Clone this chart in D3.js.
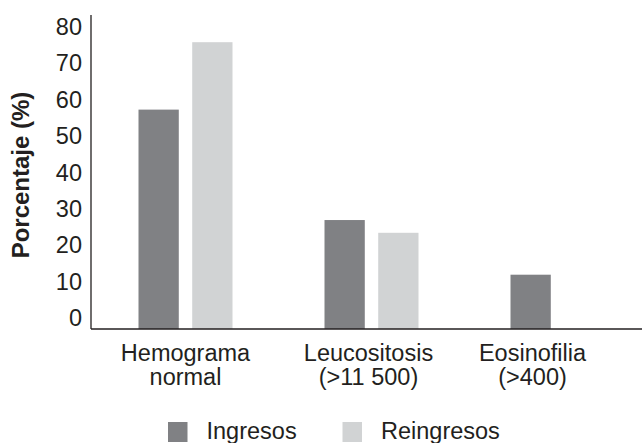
<!DOCTYPE html>
<html>
<head>
<meta charset="utf-8">
<script src="https://cdn.jsdelivr.net/npm/d3@7"></script>
<style>
  body { margin: 0; background: #fff; }
  text { font-family: "Liberation Sans", Arial, sans-serif; fill: #231f20; }
</style>
</head>
<body>
<script>
// data
var categories = ["Hemograma|normal", "Leucositosis|(>11 500)", "Eosinofilia|(>400)"];
var series = ["Ingresos", "Reingresos"];
var ingresos = [57, 26.7, 11.7];
var reingresos = [75.5, 23.2, 0];
var yTicks = [0, 10, 20, 30, 40, 50, 60, 70, 80];

function draw() {
    var w = 642;
    var h = 443;
    var fontSize = 23.5;
    var svg = d3.select("body")
        .append("svg")
        .attr("width", w)
        .attr("height", h);

    // axis baseline sits a little below the "0" tick in the original
    var y = d3.scaleLinear()
        .domain([-3.2, 80])
        .range([329, 25.8]);
    var x0 = d3.scaleBand()
        .domain(categories)
        .range([92.5, 650.5]);
    var x1 = d3.scaleBand()
        .domain(series)
        .range([46, 140])
        .paddingInner(0.25);
    var color = d3.scaleOrdinal()
        .domain(series)
        .range(["#808184", "#d1d3d4"]);

    var rows = categories.map(function(c, i) {
        return { cat: c, values: [ingresos[i], reingresos[i]] };
    });

    //bars (a zero value gets no bar)
    var groups = svg.selectAll("g.group")
        .data(rows)
        .enter()
        .append("g")
        .attr("class", "group")
        .attr("transform", function(d) { return "translate(" + x0(d.cat) + ",0)"; });
    groups.selectAll("rect")
        .data(function(d) {
            return series.map(function(s, j) { return { key: s, value: d.values[j] }; })
                .filter(function(e) { return e.value > 0; });
        })
        .enter()
        .append("rect")
        .attr("x", function(d) { return x1(d.key); })
        .attr("width", x1.bandwidth())
        .attr("y", function(d) { return y(d.value); })
        .attr("height", function(d) { return y(-3.2) - y(d.value); })
        .attr("fill", function(d) { return color(d.key); });

    //y tick labels
    var yAxis = svg.append("g")
        .attr("transform", "translate(82,0)")
        .call(d3.axisLeft(y).tickValues(yTicks).tickSize(0).tickPadding(0));
    yAxis.select(".domain").remove();
    yAxis.attr("font-family", null);
    yAxis.selectAll("text")
        .attr("font-size", fontSize)
        .attr("dy", "0.36em");

    //axis lines
    svg.append("line")
        .attr("x1", 91).attr("x2", 91)
        .attr("y1", 15).attr("y2", y(-3.2))
        .attr("stroke", "#231f20").attr("stroke-width", 1.3);
    svg.append("line")
        .attr("x1", 91).attr("x2", w)
        .attr("y1", y(-3.2)).attr("y2", y(-3.2))
        .attr("stroke", "#231f20").attr("stroke-width", 1.3);

    //category labels, two lines each
    var labelShift = [0, -3, -25];
    var lab = svg.selectAll("text.cat")
        .data(categories)
        .enter()
        .append("text")
        .attr("class", "cat")
        .attr("text-anchor", "middle")
        .attr("font-size", fontSize)
        .attr("transform", function(d, i) {
            return "translate(" + (x0(d) + x0.bandwidth() / 2 + labelShift[i]) + ",361)";
        });
    lab.selectAll("tspan")
        .data(function(d) { return d.split("|"); })
        .enter()
        .append("tspan")
        .attr("x", 0)
        .attr("y", function(d, i) { return i * 24; })
        .text(function(d) { return d; });

    //y title
    svg.append("text")
        .attr("transform", "translate(29,175) rotate(-90)")
        .attr("text-anchor", "middle")
        .attr("font-size", 24)
        .attr("font-weight", "bold")
        .text("Porcentaje (%)");

    //legend
    var legX = [168, 342.5];
    var leg = svg.selectAll("g.leg")
        .data(series)
        .enter()
        .append("g")
        .attr("class", "leg")
        .attr("transform", function(d, i) { return "translate(" + legX[i] + ",422)"; });
    leg.append("rect")
        .attr("width", 19.5)
        .attr("height", 20)
        .attr("fill", function(d) { return color(d); });
    leg.append("text")
        .attr("x", 38.5)
        .attr("y", 17)
        .attr("font-size", fontSize)
        .text(function(d) { return d; });
}

window.onload = draw;
</script>
</body>
</html>
